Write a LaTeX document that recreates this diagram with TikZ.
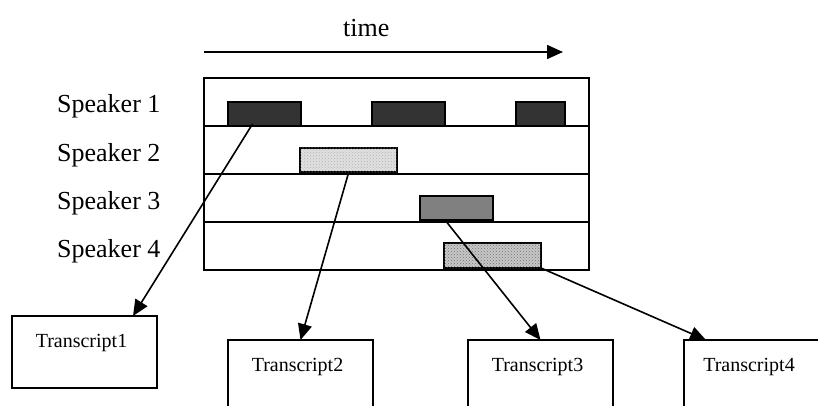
\documentclass[tikz,border=0pt]{standalone}
\usepackage{fontspec}
\setmainfont{Liberation Serif}
\usetikzlibrary{arrows.meta,patterns}
\begin{document}
\begin{tikzpicture}[x=1pt,y=-1pt,
  frame/.style={draw, line width=1.8pt, rectangle, inner sep=0pt, outer sep=0pt},
  seg/.style={draw, line width=1.8pt, rectangle, inner sep=0pt, outer sep=0pt, minimum height=24pt},
  tbox/.style={draw, line width=1.8pt, rectangle, inner sep=0pt, outer sep=0pt, minimum width=145pt, minimum height=72pt},
  spk/.style={anchor=base west, inner sep=0pt, font=\fontsize{26}{30}\selectfont},
  tname/.style={anchor=base, inner sep=0pt, font=\fontsize{20}{24}\selectfont},
  link/.style={line width=1.6pt, -{Triangle[length=16pt,width=14pt]}}]
\useasboundingbox (0,0) rectangle (818,406);
\clip (0,0) rectangle (818,406);

% time axis
\coordinate (t0) at (204,52);
\coordinate (t1) at (563,52);
\draw[link] (t0) -- (t1);
\node[spk] (timelbl) at (343,37) {time};

% speaker labels
\node[spk] (l1) at (57,113) {Speaker 1};
\node[spk] (l2) at (57,161) {Speaker 2};
\node[spk] (l3) at (57,209) {Speaker 3};
\node[spk] (l4) at (57,257) {Speaker 4};

% timeline frame with four rows
\node[frame, minimum width=385pt, minimum height=192pt] (grid) at (396.5,174) {};
\foreach \d in {48,96,144}
  \draw[line width=1.8pt] ([yshift=-\d pt]grid.north west) -- ([yshift=-\d pt]grid.north east);

% speech segments
\node[seg, fill=black!80, minimum width=73pt] (s1a) at (264.5,114) {};
\node[seg, fill=black!80, minimum width=73pt] (s1b) at (408.5,114) {};
\node[seg, fill=black!80, minimum width=49pt] (s1c) at (540.5,114) {};
\node[seg, fill=black!12, postaction={pattern=crosshatch dots, pattern color=black!30}, minimum width=97pt] (s2) at (348.5,160) {};
\node[seg, fill=black!50, minimum width=73pt] (s3) at (456.5,208) {};
\node[seg, fill=black!22, postaction={pattern=crosshatch dots, pattern color=black!55}, minimum width=97pt, minimum height=25pt] (s4) at (492.5,255.5) {};

% transcripts
\node[tbox] (T1) at (84.5,352) {};
\node[tbox] (T2) at (300.5,376) {};
\node[tbox] (T3) at (540.5,376) {};
\node[tbox, minimum width=136pt] (T4) at (752,376) {};
\node[tname] (n1) at ([xshift=-3pt,yshift=-31pt]T1.north) {Transcript1};
\node[tname] (n2) at ([xshift=-3pt,yshift=-31pt]T2.north) {Transcript2};
\node[tname] (n3) at ([xshift=-3pt,yshift=-31pt]T3.north) {Transcript3};
\node[tname] (n4) at ([xshift=-3pt,yshift=-31pt]T4.north) {Transcript4};

% segments routed to their transcripts
\draw[link] ([xshift=-12pt,yshift=2pt]s1a.south) -- ([xshift=48.5pt]T1.north);
\draw[link] ([yshift=-1pt]s2.south) -- (T2.north);
\draw[link] ([xshift=-11.5pt]s3.south) -- (T3.north);
\draw[link] (s4.south east) -- ([xshift=22pt]T4.north west);
\end{tikzpicture}
\end{document}
